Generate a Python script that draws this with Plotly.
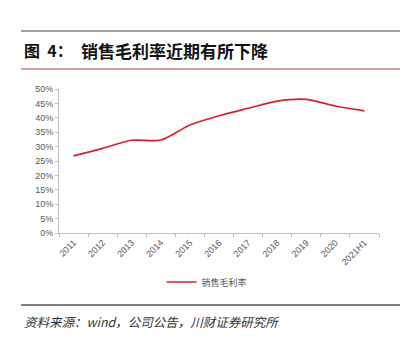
import plotly.graph_objects as go

categories = ["2011", "2012", "2013", "2014", "2015", "2016", "2017", "2018", "2019", "2020", "2021H1"]
gross_margin = [0.268, 0.294, 0.322, 0.323, 0.375, 0.407, 0.433, 0.458, 0.464, 0.441, 0.424]
series_name = "销售毛利率"
y_ticks = [0, 0.05, 0.10, 0.15, 0.20, 0.25, 0.30, 0.35, 0.40, 0.45, 0.50]

W, H = 414, 345
L, R, T, B = 59, 35, 89, 112

fig = go.Figure()
fig.add_trace(go.Scatter(
    x=categories, y=gross_margin, mode="lines", name=series_name,
    line=dict(color="#d9202a", width=1.7, shape="spline", smoothing=0.8),
))

axis_font = dict(family="Liberation Sans, Arial, sans-serif", size=9, color="#595959")

def px_x(x):
    return (x - L) / (W - L - R)

def px_y(y):
    return (H - B - y) / (H - T - B)

fig.update_layout(
    width=W, height=H,
    margin=dict(l=L, r=R, t=T, b=B),
    paper_bgcolor="white", plot_bgcolor="white",
    showlegend=True,
    legend=dict(orientation="h", x=px_x(207), xanchor="center", y=px_y(282), yanchor="middle",
                xref="paper", yref="paper",
                font=dict(family="Noto Sans CJK SC", size=9, color="#595959"),
                bgcolor="rgba(0,0,0,0)"),
    xaxis=dict(type="category", range=[-0.5, 10.5], showline=True, linecolor="#bfbfbf",
               linewidth=1, ticks="outside", ticklen=3, tickcolor="#bfbfbf",
               tickangle=-45, tickfont=axis_font, showgrid=False, zeroline=False,
               tickson="boundaries"),
    yaxis=dict(range=[0, 0.5], tickvals=y_ticks, tickformat=".0%", showline=True,
               linecolor="#bfbfbf", linewidth=1, ticks="outside", ticklen=3,
               tickcolor="#bfbfbf", tickfont=axis_font, showgrid=False, zeroline=False),
)

shapes = [
    dict(type="line", xref="paper", yref="paper", x0=px_x(21), x1=px_x(400), y0=px_y(31), y1=px_y(31),
         line=dict(color="#a0a0a0", width=2)),
    dict(type="line", xref="paper", yref="paper", x0=px_x(21), x1=px_x(400), y0=px_y(69), y1=px_y(69),
         line=dict(color="#b83a3a", width=1.2)),
    dict(type="line", xref="paper", yref="paper", x0=px_x(21), x1=px_x(400), y0=px_y(305), y1=px_y(305),
         line=dict(color="#555555", width=1.5)),
]
fig.update_layout(shapes=shapes)

fig.add_annotation(xref="paper", yref="paper", x=px_x(22), y=px_y(50), xanchor="left", yanchor="middle",
                   text="<b>图  4：</b>", showarrow=False,
                   font=dict(family="Noto Sans CJK SC", size=16, color="#111111"))
fig.add_annotation(xref="paper", yref="paper", x=px_x(79), y=px_y(50), xanchor="left", yanchor="middle",
                   text="<b>销售毛利率近期有所下降</b>", showarrow=False,
                   font=dict(family="Noto Sans CJK SC", size=17, color="#111111"))
fig.add_annotation(xref="paper", yref="paper", x=px_x(22), y=px_y(321), xanchor="left", yanchor="middle",
                   text="<i>资料来源：wind，公司公告，川财证券研究所</i>", showarrow=False,
                   font=dict(family="Noto Sans CJK SC", size=12.5, color="#333333"))

fig.write_html("out.html")
